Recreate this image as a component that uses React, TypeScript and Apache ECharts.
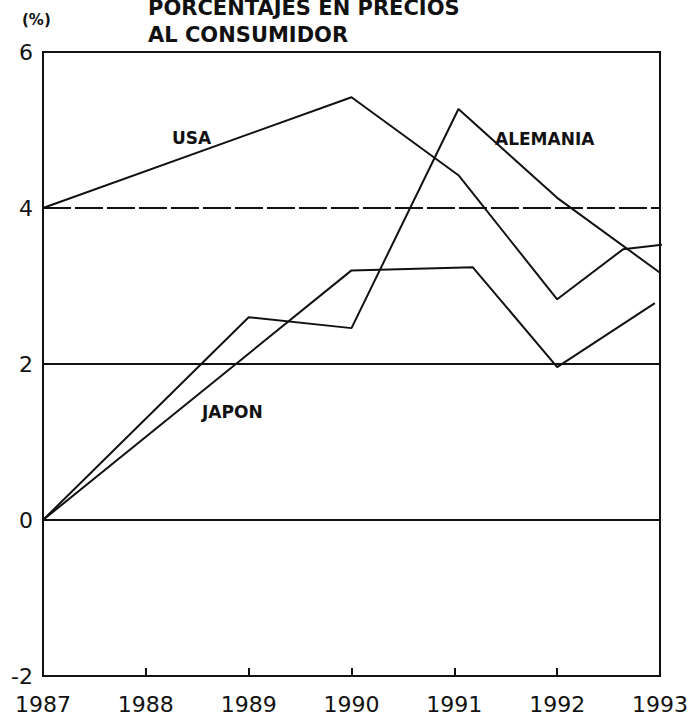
import React, { useEffect, useRef } from "react";
import * as echarts from "echarts";

const xTicks = [1987, 1988, 1989, 1990, 1991, 1992, 1993];
const usaYears = [1987, 1990, 1991.04, 1992, 1992.64, 1993.16];
const usaValues = [4, 5.42, 4.42, 2.83, 3.47, 3.55];
const alemaniaYears = [1987, 1989, 1990, 1991.04, 1992, 1993];
const alemaniaValues = [0, 2.6, 2.46, 5.27, 4.13, 3.17];
const japonYears = [1987, 1990, 1991.18, 1992, 1992.95];
const japonValues = [0, 3.2, 3.24, 1.96, 2.78];
const titleLines = ["PORCENTAJES EN PRECIOS", "AL CONSUMIDOR"];
const unitLabel = "(%)";
const seriesNames = ["USA", "ALEMANIA", "JAPON"];

const FONT = "'DejaVu Sans', 'Liberation Sans', Arial, sans-serif";

export default function App() {
  const ref = useRef<HTMLDivElement>(null);
  useEffect(() => {
    document.body.style.margin = "0";
    const chart = echarts.init(ref.current!, null, { renderer: "svg" });
    const pair = (xs: number[], ys: number[]) => xs.map((x, i) => [x, ys[i]]);
    const lineStyle = { color: "#111", width: 2 };
    const labelFont = `bold 17px ${FONT}`;
    chart.setOption({
      animation: false,
      backgroundColor: "#fff",
      grid: {
        left: 43,
        right: 27,
        top: 52,
        bottom: 42,
        show: true,
        borderColor: "#111",
        borderWidth: 2,
      },
      xAxis: {
        type: "value",
        min: xTicks[0],
        max: xTicks[xTicks.length - 1],
        interval: 1,
        axisLine: { show: true, onZero: false, lineStyle: { color: "#111", width: 2 } },
        axisTick: { show: true, inside: true, length: 8, lineStyle: { color: "#111", width: 2 } },
        splitLine: { show: false },
        axisLabel: {
          color: "#111",
          fontFamily: FONT,
          fontSize: 22,
          margin: 17,
          formatter: (v: number) => String(v),
        },
      },
      yAxis: {
        type: "value",
        min: -2,
        max: 6,
        interval: 2,
        axisLine: { show: true, lineStyle: { color: "#111", width: 2 } },
        axisTick: { show: false },
        splitLine: { show: false },
        axisLabel: { color: "#111", fontFamily: FONT, fontSize: 22, margin: 10 },
      },
      series: [
        {
          name: seriesNames[0],
          type: "line",
          data: pair(usaYears, usaValues),
          showSymbol: false,
          clip: false,
          lineStyle,
          markLine: {
            silent: true,
            symbol: "none",
            label: { show: false },
            data: [
              { yAxis: 0, lineStyle: { color: "#111", width: 2, type: "solid" } },
              { yAxis: 2, lineStyle: { color: "#111", width: 2, type: "solid" } },
              { yAxis: 4, lineStyle: { color: "#111", width: 2, type: [28, 4] } },
            ],
          },
        },
        {
          name: seriesNames[1],
          type: "line",
          data: pair(alemaniaYears, alemaniaValues),
          showSymbol: false,
          lineStyle,
        },
        {
          name: seriesNames[2],
          type: "line",
          data: pair(japonYears, japonValues),
          showSymbol: false,
          lineStyle,
        },
      ],
      graphic: [
        {
          type: "text",
          left: 148,
          top: -6,
          style: {
            text: titleLines.join("\n"),
            font: `bold 21px ${FONT}`,
            fill: "#111",
            lineHeight: 27,
          },
        },
        {
          type: "text",
          left: 22,
          top: 12,
          style: { text: unitLabel, font: `bold 15px ${FONT}`, fill: "#111" },
        },
        {
          type: "text",
          left: 172,
          top: 129,
          style: { text: seriesNames[0], font: labelFont, fill: "#111" },
        },
        {
          type: "text",
          left: 495,
          top: 130,
          style: { text: seriesNames[1], font: labelFont, fill: "#111" },
        },
        {
          type: "text",
          left: 202,
          top: 403,
          style: { text: seriesNames[2], font: labelFont, fill: "#111" },
        },
      ],
    });
    return () => chart.dispose();
  }, []);
  return <div ref={ref} style={{ width: 691, height: 718 }} />;
}
